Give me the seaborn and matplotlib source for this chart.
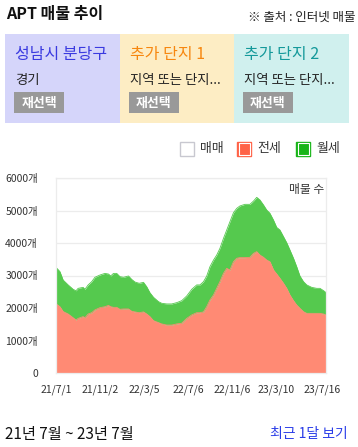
import pandas as pd
import seaborn as sns
import matplotlib.pyplot as plt
from matplotlib.patches import Rectangle

# values (apartment listings, 매물 수)
dates = ["2021-07-01", "2021-07-12", "2021-07-21", "2021-08-04", "2021-08-18", "2021-08-26",
         "2021-09-01", "2021-09-15", "2021-09-20", "2021-09-29", "2021-10-09", "2021-10-18",
         "2021-11-01", "2021-11-15", "2021-11-25", "2021-12-01", "2021-12-09", "2021-12-18",
         "2021-12-27", "2022-01-06", "2022-01-20", "2022-01-29", "2022-02-07", "2022-02-19",
         "2022-03-03", "2022-03-12", "2022-03-21", "2022-03-31", "2022-04-14", "2022-04-23",
         "2022-05-07", "2022-05-21", "2022-06-04", "2022-06-18", "2022-07-02", "2022-07-16",
         "2022-07-30", "2022-08-08", "2022-08-18", "2022-08-27", "2022-09-05", "2022-09-15",
         "2022-09-24", "2022-10-03", "2022-10-13", "2022-10-22", "2022-10-31", "2022-11-10",
         "2022-11-19", "2022-11-28", "2022-12-12", "2022-12-26", "2023-01-05", "2023-01-14",
         "2023-01-23", "2023-02-02", "2023-02-11", "2023-02-20", "2023-03-02", "2023-03-11",
         "2023-03-20", "2023-03-30", "2023-04-08", "2023-04-17", "2023-04-27", "2023-05-06",
         "2023-05-15", "2023-05-25", "2023-06-03", "2023-06-17", "2023-07-01", "2023-07-10",
         "2023-07-20", "2023-07-27"]
jeonse = [2130, 2040, 1890, 1815, 1700, 1630, 1680, 1735, 1700, 1815, 1855, 1940,
          2010, 2040, 2080, 2040, 2020, 2020, 1960, 1970, 1970, 1900, 1880, 1855,
          1880, 1815, 1735, 1610, 1550, 1510, 1475, 1475, 1510, 1530, 1680, 1785,
          1855, 1855, 1880, 2040, 2245, 2400, 2605, 2810, 3065, 3220, 3170, 3425,
          3530, 3550, 3550, 3560, 3680, 3735, 3630, 3560, 3475, 3425, 3170, 3045,
          2915, 2760, 2605, 2400, 2225, 2090, 1990, 1885, 1835, 1835, 1835, 1835,
          1815, 1785]
wolse = [1120, 1080, 970, 895, 875, 900, 925, 900, 875, 895, 955, 1005,
         1005, 1025, 965, 945, 1045, 1045, 1005, 975, 1015, 980, 920, 905,
         910, 840, 735, 720, 645, 635, 650, 650, 655, 695, 690, 790,
         855, 855, 930, 945, 1025, 1075, 1025, 1025, 1080, 1180, 1485, 1510,
         1535, 1590, 1640, 1630, 1610, 1670, 1695, 1610, 1540, 1490, 1535, 1435,
         1485, 1435, 1405, 1385, 1305, 1180, 995, 925, 875, 800, 770, 770,
         720, 690]
tick_dates = ["2021-07-01", "2021-11-02", "2022-03-05", "2022-07-06", "2022-11-06", "2023-03-10", "2023-07-16"]
tick_labels = ["21/7/1", "21/11/2", "22/3/5", "22/7/6", "22/11/6", "23/3/10", "23/7/16"]
y_ticks = [0, 1000, 2000, 3000, 4000, 5000, 6000]

df = pd.DataFrame({"date": pd.to_datetime(dates), "전세": jeonse, "월세": wolse})
df["합계"] = df["전세"] + df["월세"]

sns.set_style("white")
plt.rcParams["font.family"] = ["Noto Sans CJK KR", "DejaVu Sans"]

W, H = 358, 447
fig = plt.figure(figsize=(W / 100, H / 100), dpi=100)


def px(x, y):
    return x / W, 1 - y / H


def ftext(x, y, s, **kw):
    fig.text(*px(x, y), s, **kw)


def fbox(x0, y0, x1, y1, **kw):
    fig.patches.append(Rectangle(px(x0, y1), (x1 - x0) / W, (y1 - y0) / H,
                                 transform=fig.transFigure, figure=fig, **kw))


# header
ftext(6, 14, "APT 매물 추이", fontsize=11.5, fontweight="bold", va="center", color="#111111")
ftext(355, 17, "※ 출처 : 인터넷 매물", fontsize=9, va="center", ha="right", color="#222222")

# selection cards
cards = [
    (5, 120, "#d5d5fa", "성남시 분당구", "#3a3ae0", "경기"),
    (120, 234, "#fdedc4", "추가 단지 1", "#f7870f", "지역 또는 단지..."),
    (234, 349, "#d0f0ee", "추가 단지 2", "#14999a", "지역 또는 단지..."),
]
for x0, x1, bg, title, tcolor, sub in cards:
    fbox(x0, 34, x1, 123, facecolor=bg, edgecolor="none")
    ftext(x0 + 10, 54, title, fontsize=11.5, color=tcolor, va="center")
    ftext(x0 + 10, 80, sub, fontsize=9.6, color="#222222", va="center")
    fbox(x0 + 9, 92, x0 + 59, 113, facecolor="#999999", edgecolor="none")
    ftext(x0 + 34, 102.5, "재선택", fontsize=9.3, color="white", fontweight="bold",
          ha="center", va="center")

# legend
legend_items = [(180, "매매", "white", "#c8c8d0"),
                (237, "전세", "#ff6347", "#ff6347"),
                (296, "월세", "#19b519", "#19b519")]
for x0, label, fc, ec in legend_items:
    fbox(x0, 142, x0 + 14, 156, facecolor=fc, edgecolor=ec, linewidth=1)
    if fc != "white":
        fbox(x0 + 1.5, 143.5, x0 + 12.5, 154.5, facecolor=fc, edgecolor="white", linewidth=0.8)
    ftext(x0 + 20, 149, label, fontsize=9.3, color="#333333", va="center")

# chart
ax = fig.add_axes([56 / W, 1 - 373 / H, 270 / W, 195 / H])
ax.fill_between(df["date"], 0, df["전세"], color="#ff8a74", linewidth=0)
ax.fill_between(df["date"], df["전세"], df["합계"], color="#55c94e", linewidth=0)
sns.lineplot(data=df, x="date", y="합계", ax=ax, color="#55c94e", linewidth=0.6)
sns.lineplot(data=df, x="date", y="전세", ax=ax, color="#ff8a74", linewidth=0.6)

ax.set_xlim(df["date"].iloc[0], df["date"].iloc[-1])
ax.set_ylim(0, 6000)
ax.set_yticks(y_ticks)
ax.set_yticklabels([f"{v}개" if v else "0" for v in y_ticks], fontsize=7.5, color="#333333")
ax.set_xticks(pd.to_datetime(tick_dates))
ax.set_xticklabels(tick_labels, fontsize=7.5, color="#333333")
ax.tick_params(axis="y", length=0, pad=13)
ax.tick_params(axis="x", length=0, pad=8)
ax.grid(axis="y", color="#ececec", linewidth=0.9)
ax.set_axisbelow(True)
for sp in ax.spines.values():
    sp.set_color("#ececec")
    sp.set_linewidth(0.9)
ax.set_xlabel("")
ax.set_ylabel("")
ax.text(0.995, 0.94, "매물 수", transform=ax.transAxes, ha="right", va="center",
        fontsize=8.5, color="#333333")

# footer
ftext(5, 435, "21년 7월 ~ 23년 7월", fontsize=11, color="#111111", va="center")
ftext(348, 434, "최근 1달 보기", fontsize=10, color="#2a3de8", va="center", ha="right")

fig.savefig("out.png", dpi=100)
